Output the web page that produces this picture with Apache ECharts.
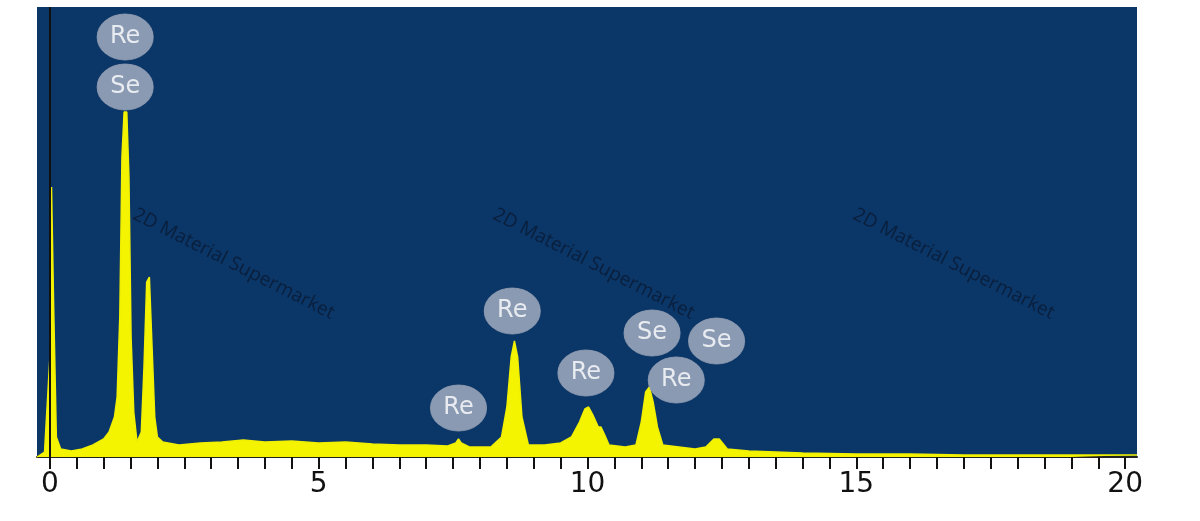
<!DOCTYPE html>
<html><head><meta charset="utf-8">
<script src="https://cdn.jsdelivr.net/npm/echarts@6/dist/echarts.min.js"></script>
<style>html,body{margin:0;padding:0;background:#fff}#main{width:1200px;height:521px}</style>
</head><body><div id="main"></div>
<script>
var energy = [-0.24,-0.1,0,0.03,0.07,0.12,0.2,0.4,0.6,0.8,1.0,1.1,1.2,1.25,1.3,1.34,1.38,1.43,1.47,1.51,1.56,1.62,1.7,1.75,1.8,1.85,1.9,1.95,2.0,2.1,2.4,2.8,3.2,3.6,4.0,4.5,5.0,5.5,6.0,6.5,7.0,7.4,7.55,7.6,7.65,7.8,8.2,8.4,8.5,8.58,8.64,8.7,8.78,8.9,9.2,9.5,9.7,9.85,9.95,10.02,10.1,10.2,10.25,10.32,10.4,10.7,10.9,11.0,11.08,11.15,11.22,11.3,11.4,11.7,12.0,12.2,12.35,12.45,12.6,13,14,15,16,17,18,19,20.22];
var counts = [0,5,100,270,150,20,8,6,8,12,18,25,40,60,140,300,345,345,280,120,45,15,25,90,175,180,110,40,20,15,12,14,15,17,15,16,14,15,13,12,12,11,14,18,14,10,10,20,50,100,116,100,40,12,12,14,20,35,48,50,42,30,30,22,12,10,12,35,65,70,55,30,12,10,8,10,18,18,8,6,4,3,3,2,2,2,2];
var tagNames = ['Re','Se','Re','Re','Re','Se','Re','Se'];
var tagX = [1.4,1.4,8.6,7.6,9.97,11.2,11.65,12.4];
var tagY = [420,370,146,49,84,124,77,116];
var tickValues = [];
for (var t = 0; t <= 20; t += 0.5) tickValues.push(t);
var labelValues = [0,5,10,15,20];

var myChart = echarts.init(document.getElementById('main'));
var line = [];
for (var i = 0; i < energy.length; i++) line.push([energy[i], counts[i]]);
var tags = [];
for (var j = 0; j < tagNames.length; j++) tags.push({value:[tagX[j], tagY[j]], name:tagNames[j]});

var wm = [[130,205],[490,205],[850,205]].map(function(p){
    return {type:'text', left:p[0], top:p[1], rotation:-0.47,
        style:{text:'2D Material Supermarket', fill:'#0a1f3c', font:'19px "Open Sans"'}, z:100};
});

option = {
    backgroundColor:'#fff',
    animation:false,
    grid:{left:37, right:63, top:7, bottom:64, show:true, backgroundColor:'#0b3668', borderWidth:0},
    xAxis:{
        type:'value', min:-0.24, max:20.22,
        axisLine:{show:true, lineStyle:{color:'#222', width:2}},
        axisTick:{show:true, customValues:tickValues, length:12, inside:false, lineStyle:{color:'#111', width:2}},
        axisLabel:{customValues:labelValues, color:'#111', fontSize:28, fontFamily:'DejaVu Sans', margin:14},
        splitLine:{show:false}
    },
    yAxis:{type:'value', min:0, max:450, show:false},
    series:[
        {type:'line', data:line, symbol:'none', lineStyle:{color:'#f0f000', width:1.5},
         areaStyle:{color:'#f4f400', opacity:1},
         markLine:{silent:true, symbol:'none', label:{show:false}, lineStyle:{color:'#111', type:'solid', width:2},
             data:[{xAxis:0}]}},
        {type:'scatter', data:tags, symbol:'circle', symbolSize:[56,46],
         itemStyle:{color:'#aab4c6', borderColor:'#96a0b4', borderWidth:1},
         label:{show:true, position:'inside', formatter:'{b}', color:'#fff', fontSize:24, fontFamily:'DejaVu Sans'}, z:5}
    ],
    graphic: wm
};
myChart.setOption(option, true);
</script></body></html>
